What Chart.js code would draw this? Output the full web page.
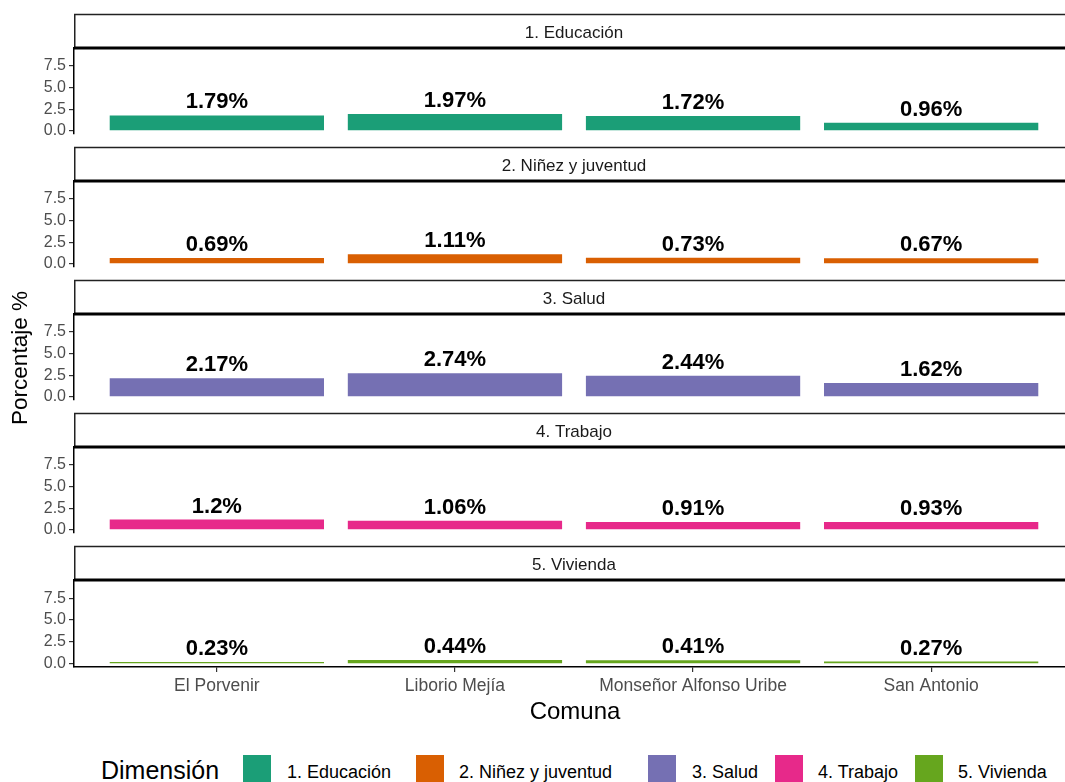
<!DOCTYPE html>
<html>
<head>
<meta charset="utf-8">
<script src="https://cdn.jsdelivr.net/npm/chart.js"></script>
<style>
body{margin:0;background:#fff;overflow:hidden;width:1065px;height:782px;position:relative;font-family:"Liberation Sans",Arial,sans-serif;}
canvas{position:absolute;left:0;}
.txt{position:absolute;white-space:nowrap;color:#000;}
.key{position:absolute;width:28px;height:28px;top:755px;}
</style>
</head>
<body>
<div id="panels"></div>
<div class="txt" style="left:0;top:346px;width:40px;height:24px;font-size:22.5px;line-height:24px;transform:rotate(-90deg);transform-origin:20px 12px;display:flex;justify-content:center;">
  <span style="display:block;">Porcentaje %</span>
</div>
<div class="txt" style="left:475px;width:200px;text-align:center;top:697px;font-size:24px;line-height:28px;">Comuna</div>
<div id="legend"></div>
<script>
const comunas = ["El Porvenir","Liborio Mejía","Monseñor Alfonso Uribe","San Antonio"];
const dimensiones = ["1. Educación","2. Niñez y juventud","3. Salud","4. Trabajo","5. Vivienda"];
const colores = ["#1B9E77","#D95F02","#7570B3","#E7298A","#66A61E"];

const educacion = [1.79,1.97,1.72,0.96];
const ninez = [0.69,1.11,0.73,0.67];
const salud = [2.17,2.74,2.44,1.62];
const trabajo = [1.2,1.06,0.91,0.93];
const vivienda = [0.23,0.44,0.41,0.27];
const series = [educacion,ninez,salud,trabajo,vivienda];

const yTicks = [0,2.5,5,7.5];

Chart.defaults.font.family = '"Liberation Sans", Arial, sans-serif';

// strip on top of every panel, like facet_wrap
const stripPlugin = {
  id:"strip",
  afterDraw(chart){
    const ctx = chart.ctx;
    const a = chart.chartArea;
    ctx.save();
    ctx.strokeStyle = "#222";
    ctx.lineWidth = 1.5;
    ctx.beginPath();
    ctx.moveTo(a.left, 1.5);
    ctx.lineTo(a.right, 1.5);
    ctx.moveTo(a.left + 0.75, 1.5);
    ctx.lineTo(a.left + 0.75, a.top);
    ctx.stroke();
    ctx.strokeStyle = "#000";
    ctx.lineWidth = 3;
    ctx.beginPath();
    ctx.moveTo(a.left, a.top);
    ctx.lineTo(a.right, a.top);
    ctx.stroke();
    ctx.fillStyle = "#1a1a1a";
    ctx.font = '17px "Liberation Sans", Arial, sans-serif';
    ctx.textAlign = "center";
    ctx.textBaseline = "middle";
    ctx.fillText(chart.options.plugins.strip.text, (a.left + a.right) / 2, 20);
    ctx.restore();
  }
};

// value labels over the bars
const labelPlugin = {
  id:"barLabels",
  afterDatasetsDraw(chart){
    const ctx = chart.ctx;
    const meta = chart.getDatasetMeta(0);
    const vals = chart.data.datasets[0].data;
    ctx.save();
    ctx.fillStyle = "#000";
    ctx.font = 'bold 22px "Liberation Sans", Arial, sans-serif';
    ctx.textAlign = "center";
    ctx.textBaseline = "alphabetic";
    meta.data.forEach(function(bar, i){
      ctx.fillText(vals[i].y + "%", bar.x, bar.y - 7);
    });
    ctx.restore();
  }
};

const panels = document.getElementById("panels");
series.forEach(function(valores, i){
  const last = i === series.length - 1;
  const top = Math.round(14 + 132.9 * i) - 1;
  const cv = document.createElement("canvas");
  cv.width = 1074;
  cv.height = last ? 160 : 134;
  cv.style.top = top + "px";
  panels.appendChild(cv);

  new Chart(cv,{
    type:"bar",
    data:{
      datasets:[{
        label:dimensiones[i],
        data:valores.map(function(v, j){ return {x:j, y:v}; }),
        backgroundColor:colores[i],
        categoryPercentage:1,
        barPercentage:0.9
      }]
    },
    options:{
      responsive:false,
      animation:false,
      layout:{padding:{top:35, left:0, right:0, bottom: last ? 0 : 13}},
      plugins:{
        legend:{display:false},
        tooltip:{enabled:false},
        strip:{text:dimensiones[i]}
      },
      scales:{
        x:{
          type:"linear",
          min:-0.6,
          max:3.6,
          offset:false,
          display:last,
          afterBuildTicks:function(s){ s.ticks = comunas.map(function(c, j){ return {value:j}; }); },
          afterFit:function(s){ if (last) s.height = 38; },
          ticks:{
            color:"#4d4d4d",
            font:{size:17.5},
            padding:4,
            maxRotation:0,
            autoSkip:false,
            callback:function(v){ return comunas[v]; }
          },
          grid:{offset:false, drawOnChartArea:false, tickLength:5, color:"#333", lineWidth:1.2},
          border:{color:"#000", width:1.5}
        },
        y:{
          min:-0.35,
          max:9.57,
          afterBuildTicks:function(s){ s.ticks = yTicks.map(function(v){ return {value:v}; }); },
          afterFit:function(s){ s.width = 74; },
          ticks:{
            color:"#4d4d4d",
            font:{size:16},
            padding:3,
            autoSkip:false,
            callback:function(v){ return v.toFixed(1); }
          },
          grid:{drawOnChartArea:false, tickLength:5, color:"#333", lineWidth:1.2},
          border:{color:"#000", width:1.5}
        }
      }
    },
    plugins:[stripPlugin, labelPlugin]
  });
});

// legend at the bottom
const legend = document.getElementById("legend");
const keyX = [243,416,648,775,915];
const labX = [287,459,692,818,958];
let html = '<div class="txt" style="left:101px;top:755px;font-size:25px;line-height:30px;">Dimensión</div>';
dimensiones.forEach(function(d, i){
  html += '<div class="key" style="left:' + keyX[i] + 'px;background:' + colores[i] + ';"></div>';
  html += '<div class="txt" style="left:' + labX[i] + 'px;top:760px;font-size:18px;line-height:24px;">' + d + '</div>';
});
legend.innerHTML = html;
</script>
</body>
</html>
